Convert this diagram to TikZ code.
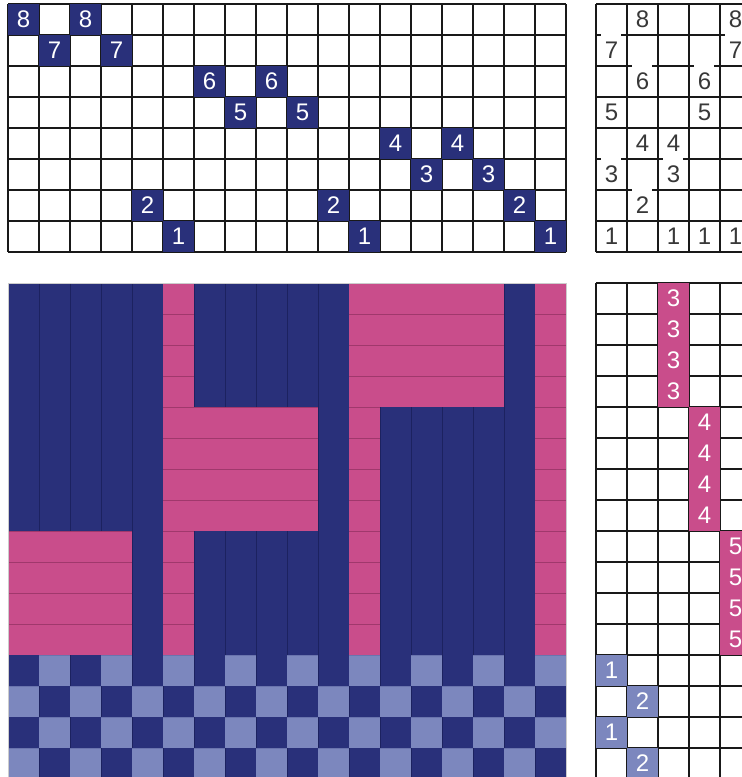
\documentclass[tikz,border=0pt]{standalone}
\usepackage{fontspec}
\setmainfont{Liberation Sans}
\definecolor{warpblue}{HTML}{29307A}
\definecolor{warpline}{HTML}{1C2260}
\definecolor{weftpink}{HTML}{C94D8B}
\definecolor{pinkline}{HTML}{A0386C}
\definecolor{weftlilac}{HTML}{7C87BE}
\definecolor{lilacline}{HTML}{6A74AE}
\definecolor{numgray}{HTML}{383838}

\begin{document}
\begin{tikzpicture}[x=1pt, y=-1pt,
        gridline/.style={line width=1.2pt, black!90},
        numtext/.style={font=\fontsize{24}{24}\selectfont, inner sep=0pt}]
    \def\cw{31}
    % corners of the four blocks
    \def\xL{8}
    \def\xR{596}
    \def\yT{4}
    \def\yB{283}

    \def\threading{{8,7,8,7,2,1,6,5,6,5,2,1,4,3,4,3,2,1}}
    \def\treadling{{3,3,3,3,4,4,4,4,5,5,5,5,1,2,1,2}}
    % tie-up of each treadle as a bit mask of shafts
    \def\tiemask{{0,85,170,13,49,193}}

    \useasboundingbox (0,0) rectangle (742,777);
    \clip (0,0) rectangle (742,777);

    % threading grid
    \foreach \i in {0,...,18}
        \draw [gridline] (\xL+\i*\cw, \yT) -- (\xL+\i*\cw, \yT+8*\cw);
    \foreach \j in {0,...,8}
        \draw [gridline] (\xL, \yT+\j*\cw) -- (\xL+18*\cw, \yT+\j*\cw);

    % tie-up grid
    \foreach \i in {0,...,5}
        \draw [gridline] (\xR+\i*\cw, \yT) -- (\xR+\i*\cw, \yT+8*\cw);
    \foreach \j in {0,...,8}
        \draw [gridline] (\xR, \yT+\j*\cw) -- (\xR+5*\cw, \yT+\j*\cw);

    % treadling grid
    \foreach \i in {0,...,5}
        \draw [gridline] (\xR+\i*\cw, \yB) -- (\xR+\i*\cw, \yB+16*\cw);
    \foreach \j in {0,...,16}
        \draw [gridline] (\xR, \yB+\j*\cw) -- (\xR+5*\cw, \yB+\j*\cw);

    % threading
    \foreach \col in {0,...,17} {
        \pgfmathtruncatemacro\sh{\threading[\col]}
        \fill [warpblue] (\xL+\col*\cw, \yT+8*\cw-\sh*\cw) rectangle ++(\cw, \cw);
        \node [numtext, white] (thr\col) at (\xL+\col*\cw+\cw/2, \yT+8*\cw-\sh*\cw+\cw/2) {\sh};
    }

    % tie-up
    \foreach \col/\sh in {0/7,4/7,1/6,3/6,0/3,2/3,1/2}
        \fill [white] (\xR+\col*\cw+5, \yT+8*\cw-\sh*\cw-1.4) rectangle ++(20, 2.8);
    \foreach \col/\sh in {1/8,4/8,0/7,4/7,1/6,3/6,0/5,3/5,1/4,2/4,0/3,2/3,1/2,0/1,2/1,3/1,4/1}
        \node [numtext, numgray] (tie\col-\sh) at (\xR+\col*\cw+\cw/2, \yT+8*\cw-\sh*\cw+\cw/2) {\sh};

    % treadling
    \foreach \row in {0,...,15} {
        \pgfmathtruncatemacro\tr{\treadling[\row]}
        \ifnum\tr>2 \def\wc{weftpink}\else\def\wc{weftlilac}\fi
        \fill [\wc] (\xR+\tr*\cw-\cw, \yB+\row*\cw) rectangle ++(\cw, \cw);
        \node [numtext, white] (trd\row) at (\xR+\tr*\cw-\cw/2, \yB+\row*\cw+\cw/2) {\tr};
    }

    % drawdown
    \foreach \row in {0,...,15} {
        \pgfmathtruncatemacro\tr{\treadling[\row]}
        \ifnum\tr>2 \def\wc{weftpink}\def\lc{pinkline}\else\def\wc{weftlilac}\def\lc{lilacline}\fi
        \foreach \col in {0,...,17} {
            \pgfmathtruncatemacro\sh{\threading[\col]}
            \pgfmathtruncatemacro\weft{mod(floor(\tiemask[\tr]/2^(\sh-1)),2)}
            \ifnum\weft=1
                \fill [\wc] (\xL+\col*\cw, \yB+\row*\cw) rectangle ++(\cw, \cw);
                \draw [\lc, line width=0.9pt] (\xL+\col*\cw, \yB+\row*\cw) -- ++(\cw, 0)
                    (\xL+\col*\cw, \yB+\row*\cw+\cw) -- ++(\cw, 0);
            \else
                \fill [warpblue] (\xL+\col*\cw, \yB+\row*\cw) rectangle ++(\cw, \cw);
                \draw [warpline, line width=0.8pt] (\xL+\col*\cw, \yB+\row*\cw) -- ++(0, \cw)
                    (\xL+\col*\cw+\cw, \yB+\row*\cw) -- ++(0, \cw);
            \fi
        }
    }
    \draw [black!20, line width=0.6pt] (\xL, \yB) rectangle (\xL+18*\cw, \yB+16*\cw);
\end{tikzpicture}
\end{document}
